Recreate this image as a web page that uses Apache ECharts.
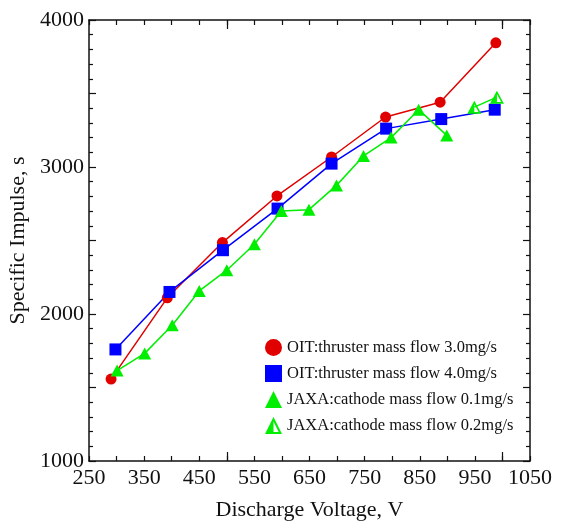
<!DOCTYPE html>
<html>
<head>
<meta charset="utf-8">
<script src="https://cdn.jsdelivr.net/npm/echarts@6/dist/echarts.min.js"></script>
<style>
  html, body { margin: 0; padding: 0; background: #fff; }
  #chart { width: 561px; height: 522px; }
</style>
</head>
<body>
<div id="chart"></div>
<script>
// Specific impulse vs. discharge voltage, [V, s]
const oitFlow30 = [[290, 1557], [392, 2110], [492, 2486], [591, 2803], [690, 3068], [788, 3340], [887, 3441], [988, 3845]];
const oitFlow40 = [[298, 1759], [396, 2150], [493, 2434], [592, 2717], [690, 3023], [789, 3261], [889, 3326], [986, 3390]];
const jaxaCathode01 = [[301, 1615], [351, 1732], [401, 1924], [450, 2157], [500, 2298], [550, 2474], [599, 2701], [649, 2710], [699, 2875], [748, 3075], [798, 3200], [848, 3390], [899, 3215]];
const jaxaCathode02 = [[949, 3407], [990, 3475]];

const seriesNames = [
  'OIT:thruster mass flow 3.0mg/s',
  'OIT:thruster mass flow 4.0mg/s',
  'JAXA:cathode mass flow 0.1mg/s',
  'JAXA:cathode mass flow 0.2mg/s'
];

// Axis ranges and tick labels
const voltRange = [250, 1050];
const voltLabels = [250, 350, 450, 550, 650, 750, 850, 950, 1050];
const voltLongTicks = [500, 1000];
const ispRange = [1000, 4000];
const ispLabels = [1000, 2000, 3000, 4000];

const FONT = 'Liberation Serif';
const INK = '#111';
const RED = '#e00000';
const BLUE = '#0000ff';
const GREEN = '#00ee00';

// Triangle outline with its left half filled (nonzero fill rule)
const halfTriangle = 'path://M0 100L50 0L100 100Z M19.4 88L80.6 88L50 26.8Z M19.4 88L50 88L50 26.8Z';

function xAxisDef(position, showLine, ticks, length, labels) {
  return {
    type: 'value', position: position, offset: 0,
    min: voltRange[0], max: voltRange[1], interval: 50,
    axisLine: { show: showLine, onZero: false, lineStyle: { color: INK, width: 1.5 } },
    axisTick: ticks ? { show: true, inside: true, length: length, customValues: ticks, lineStyle: { color: INK, width: 1.2 } }
                    : { show: true, inside: true, length: length, lineStyle: { color: INK, width: 1.2 } },
    axisLabel: labels ? {
      show: true, margin: 6, fontFamily: FONT, fontSize: 22, color: INK,
      formatter: v => (voltLabels.indexOf(v) >= 0 ? String(v) : '')
    } : { show: false },
    splitLine: { show: false }
  };
}

function yAxisDef(position, labels) {
  return {
    type: 'value', position: position, offset: 0,
    min: ispRange[0], max: ispRange[1], interval: 500,
    axisLine: { show: true, onZero: false, lineStyle: { color: INK, width: 1.5 } },
    axisTick: { show: true, inside: true, length: 7, lineStyle: { color: INK, width: 1.2 } },
    minorTick: { show: true, splitNumber: 5, length: 4, lineStyle: { color: INK, width: 1.2 } },
    axisLabel: labels ? {
      show: true, margin: 5, fontFamily: FONT, fontSize: 22, color: INK,
      formatter: v => (ispLabels.indexOf(v) >= 0 ? String(v) : '')
    } : { show: false },
    splitLine: { show: false }
  };
}

const xBottom = xAxisDef('bottom', true, null, 5, true);
xBottom.name = 'Discharge Voltage, V';
xBottom.nameLocation = 'middle';
xBottom.nameGap = 38;
xBottom.nameTextStyle = { fontFamily: FONT, fontSize: 22, color: INK };

const yLeft = yAxisDef('left', true);
yLeft.name = 'Specific Impulse, s';
yLeft.nameLocation = 'middle';
yLeft.nameGap = 49;
yLeft.nameTextStyle = { fontFamily: FONT, fontSize: 22, color: INK };

const chart = echarts.init(document.getElementById('chart'), null, { renderer: 'canvas' });

chart.setOption({
  animation: false,
  backgroundColor: '#fff',
  grid: { left: 89, right: 31, top: 20, bottom: 61, containLabel: false, outerBoundsMode: 'none' },
  xAxis: [
    xBottom,
    xAxisDef('bottom', false, voltLongTicks, 9, false),
    xAxisDef('top', true, null, 5, false),
    xAxisDef('top', false, voltLongTicks, 9, false)
  ],
  yAxis: [
    yLeft,
    yAxisDef('right', false)
  ],
  legend: {
    orient: 'vertical', left: 265, top: 339,
    itemWidth: 17, itemHeight: 17, itemGap: 9, padding: 0,
    textStyle: { fontFamily: FONT, fontSize: 16.5, color: INK },
    data: [
      { name: seriesNames[0], icon: 'circle' },
      { name: seriesNames[1], icon: 'rect' },
      { name: seriesNames[2], icon: 'triangle' },
      { name: seriesNames[3], icon: halfTriangle }
    ]
  },
  series: [
    {
      name: seriesNames[0], type: 'line', data: oitFlow30,
      symbol: 'circle', symbolSize: 11,
      lineStyle: { color: RED, width: 1.5 },
      itemStyle: { color: RED, borderWidth: 0 }
    },
    {
      name: seriesNames[1], type: 'line', data: oitFlow40,
      symbol: 'rect', symbolSize: 12,
      lineStyle: { color: BLUE, width: 1.5 },
      itemStyle: { color: BLUE, borderWidth: 0 }
    },
    {
      name: seriesNames[2], type: 'line', data: jaxaCathode01,
      symbol: 'triangle', symbolSize: [13, 12],
      lineStyle: { color: GREEN, width: 1.5 },
      itemStyle: { color: GREEN, borderWidth: 0 }
    },
    {
      name: seriesNames[3], type: 'line', data: jaxaCathode02,
      symbol: halfTriangle, symbolSize: [14, 13],
      lineStyle: { color: GREEN, width: 1.5 },
      itemStyle: { color: GREEN, borderWidth: 0 }
    }
  ]
});
</script>
</body>
</html>
